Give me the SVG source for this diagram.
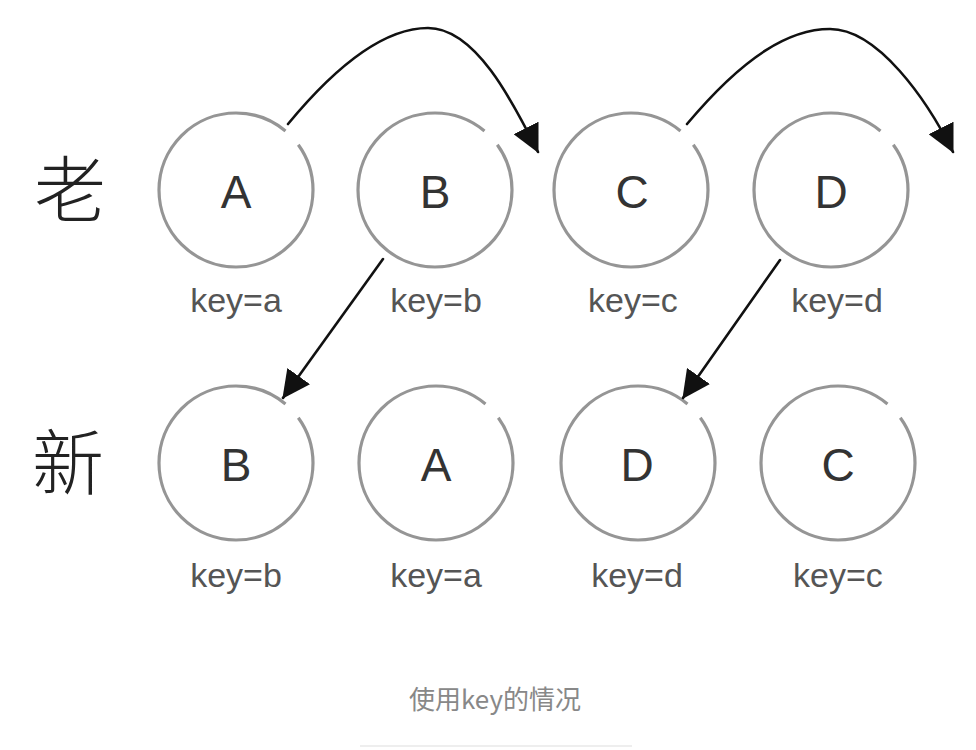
<svg xmlns="http://www.w3.org/2000/svg" width="976" height="750" viewBox="0 0 976 750">
  <style>
    .ring { fill: none; stroke: #959595; stroke-width: 3.2; stroke-dasharray: 310 14 36; }
    .letter { font-family: "Liberation Sans", Arial, sans-serif; font-size: 46px; fill: #333; text-anchor: middle; }
    .key { font-family: "Liberation Sans", Arial, sans-serif; font-size: 34px; fill: #555; text-anchor: middle; }
    .row { font-family: "Noto Sans CJK SC", sans-serif; font-size: 72px; font-weight: 300; fill: #222; text-anchor: middle; }
    .caption { font-family: "Noto Sans CJK SC", sans-serif; font-size: 26px; fill: #888; text-anchor: middle; }
    .conn { fill: none; stroke: #111; stroke-width: 2.6; stroke-linecap: round; }
  </style>
  <defs>
    <marker id="ah" markerUnits="userSpaceOnUse" markerWidth="28" markerHeight="28" viewBox="0 0 26 26" refX="25" refY="13" orient="auto">
      <path d="M0,0 L26,13 L0,26 Z" fill="#111"/>
    </marker>
  </defs>
  <rect width="976" height="750" fill="#fff"/>

  <g id="row-labels">
    <text class="row" x="70" y="216">老</text>
    <text class="row" x="68" y="489">新</text>
  </g>

  <g id="old-A">
    <circle class="ring" cx="236" cy="190" r="77" pathLength="360"/>
    <text class="letter" x="236" y="208">A</text>
    <text class="key" x="236" y="312">key=a</text>
  </g>
  <g id="old-B">
    <circle class="ring" cx="435" cy="190" r="77" pathLength="360"/>
    <text class="letter" x="435" y="208">B</text>
    <text class="key" x="436" y="312">key=b</text>
  </g>
  <g id="old-C">
    <circle class="ring" cx="631" cy="190" r="77" pathLength="360"/>
    <text class="letter" x="632" y="208">C</text>
    <text class="key" x="633" y="312">key=c</text>
  </g>
  <g id="old-D">
    <circle class="ring" cx="831" cy="190" r="77" pathLength="360"/>
    <text class="letter" x="831" y="208">D</text>
    <text class="key" x="837" y="312">key=d</text>
  </g>

  <g id="new-B">
    <circle class="ring" cx="236" cy="463" r="77" pathLength="360"/>
    <text class="letter" x="236" y="481">B</text>
    <text class="key" x="236" y="587">key=b</text>
  </g>
  <g id="new-A">
    <circle class="ring" cx="436" cy="463" r="77" pathLength="360"/>
    <text class="letter" x="436" y="481">A</text>
    <text class="key" x="436" y="587">key=a</text>
  </g>
  <g id="new-D">
    <circle class="ring" cx="638" cy="463" r="77" pathLength="360"/>
    <text class="letter" x="637" y="481">D</text>
    <text class="key" x="637" y="587">key=d</text>
  </g>
  <g id="new-C">
    <circle class="ring" cx="838" cy="463" r="77" pathLength="360"/>
    <text class="letter" x="838" y="481">C</text>
    <text class="key" x="838" y="587">key=c</text>
  </g>

  <g id="connectors">
    <path class="conn" d="M288,124 C345,55 390,28 428,28 C475,28 512,100 538,152" marker-end="url(#ah)"/>
    <path class="conn" d="M687,124 C745,55 790,29 830,29 C878,29 927,100 953,152" marker-end="url(#ah)"/>
    <path class="conn" d="M383,259 L283,398" marker-end="url(#ah)"/>
    <path class="conn" d="M780,260 L683,398" marker-end="url(#ah)"/>
  </g>

  <g id="caption">
    <text class="caption" x="495" y="709">使用key的情况</text>
    <line x1="360" y1="746" x2="632" y2="746" stroke="#eeeeee" stroke-width="2"/>
  </g>
</svg>
